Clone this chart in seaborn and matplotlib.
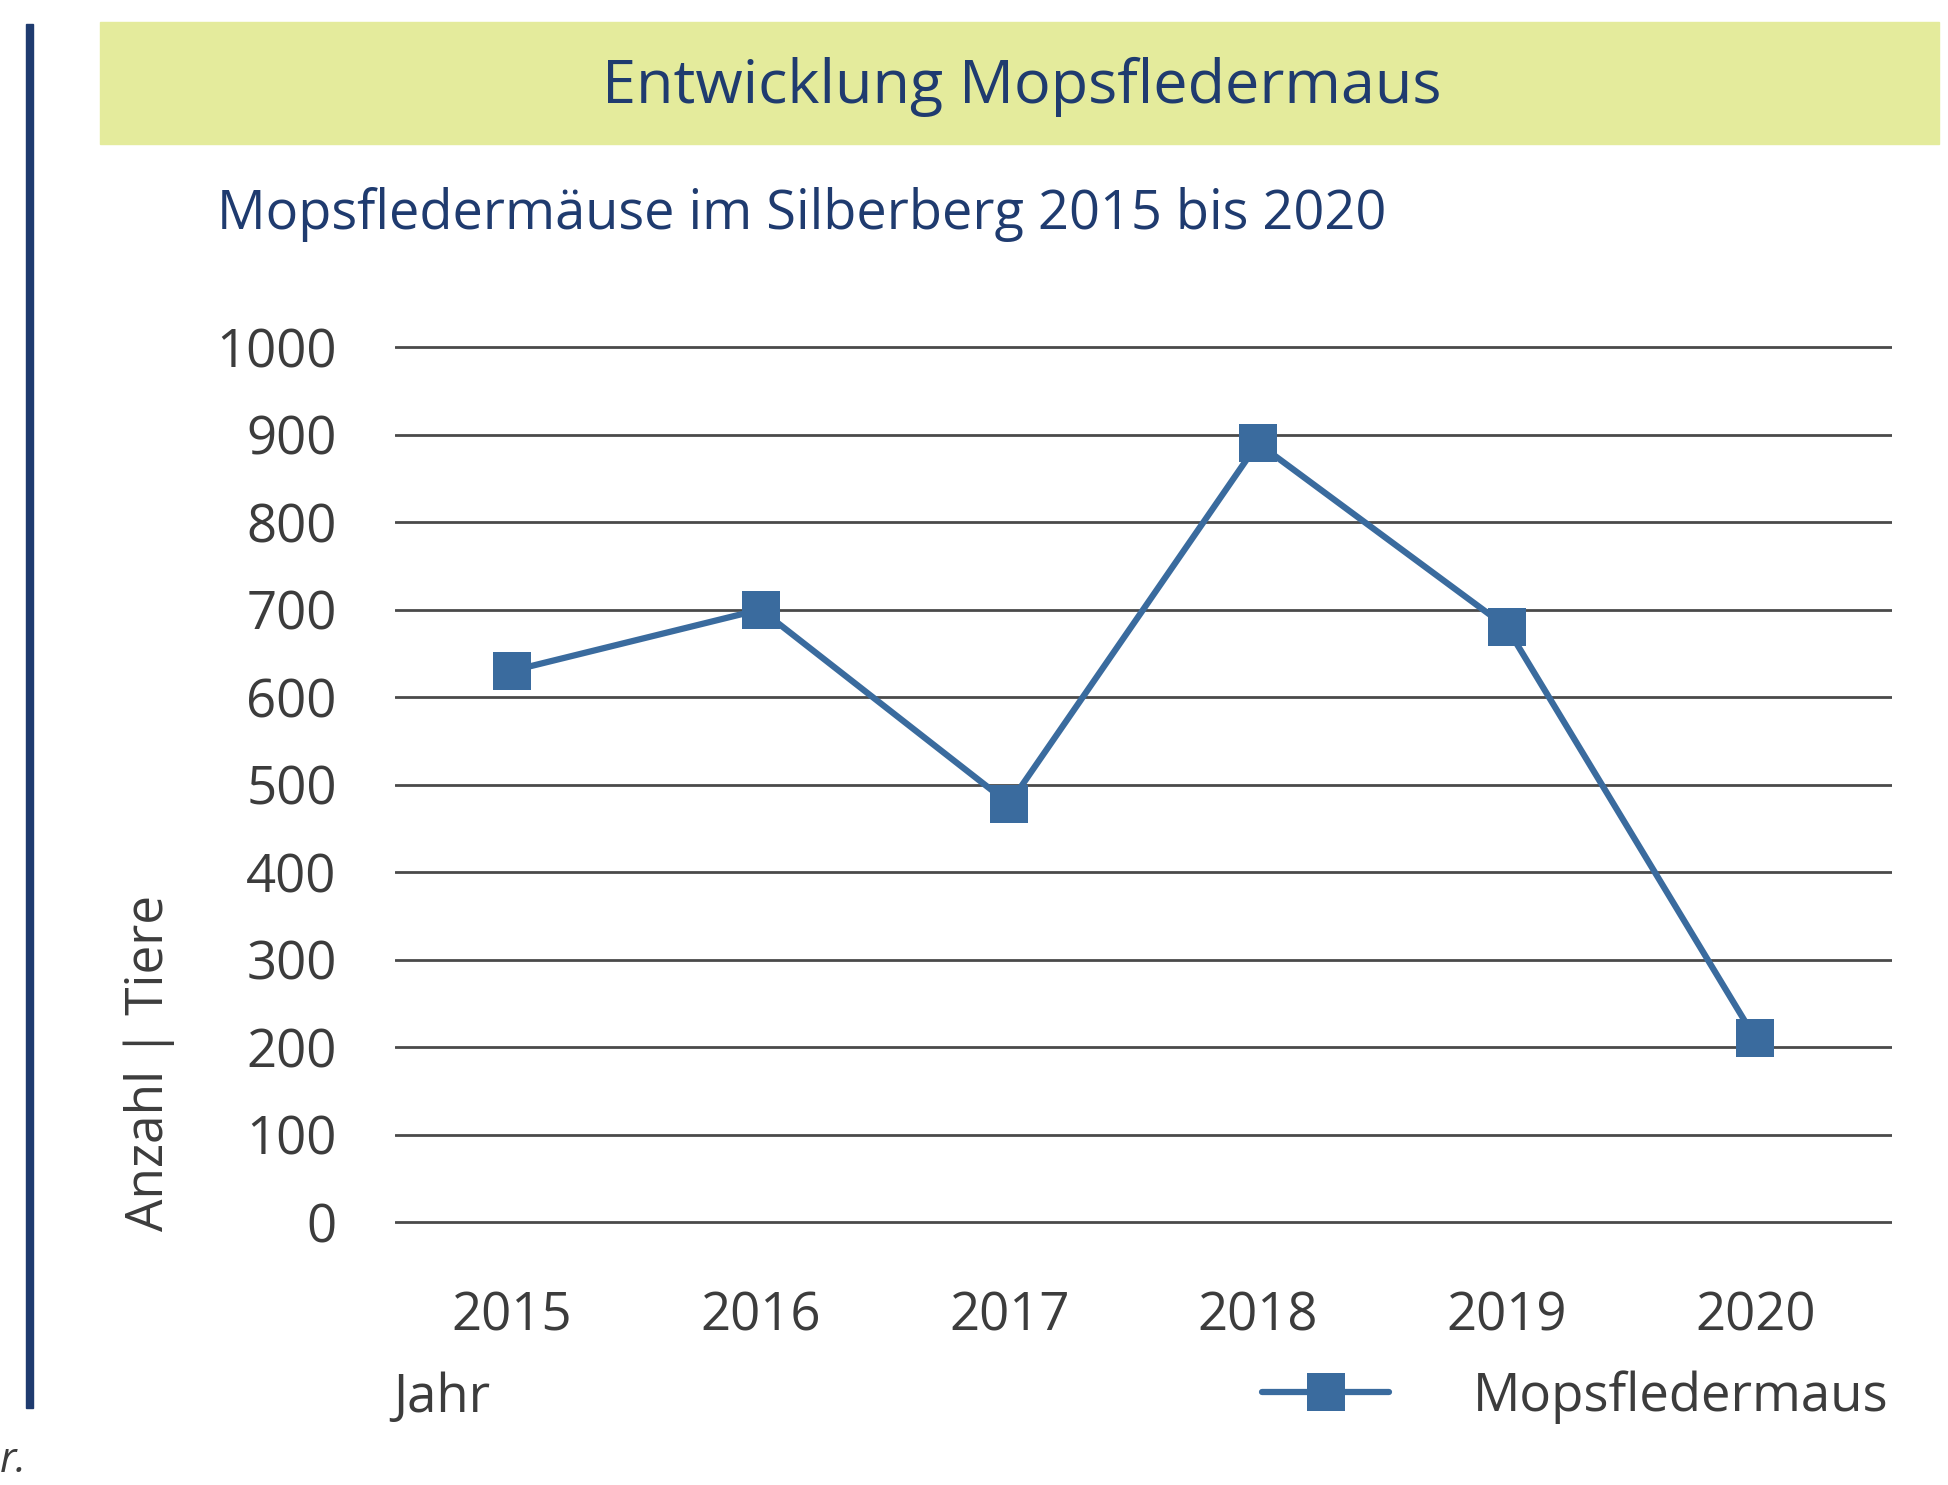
import pandas as pd
import matplotlib.pyplot as plt
import seaborn as sns
from matplotlib.patches import Rectangle

# values
years = ['2015', '2016', '2017', '2018', '2019', '2020']
counts = [630, 700, 478, 890, 680, 210]
y_ticks = [0, 100, 200, 300, 400, 500, 600, 700, 800, 900, 1000]

df = pd.DataFrame({'Jahr': years, 'Anzahl': counts, 'Art': 'Mopsfledermaus'})

sns.set_style('white')
plt.rcParams['font.family'] = ['Open Sans', 'DejaVu Sans']

navy = '#1f3b6f'
blue = '#3a6b9e'
grey = '#3c3c3c'

fig = plt.figure(figsize=(19.49, 14.85), dpi=100)

# header band and left bar
fig.patches.append(Rectangle((100 / 1949, 1 - 144 / 1485), 1839 / 1949, 122 / 1485,
                             transform=fig.transFigure, color='#e4eb9c', zorder=0))
fig.patches.append(Rectangle((26 / 1949, 1 - 1408 / 1485), 7 / 1949, 1384 / 1485,
                             transform=fig.transFigure, color=navy, zorder=0))
fig.text(1022 / 1949, 1 - 87 / 1485, 'Entwicklung Mopsfledermaus', ha='center', va='center',
         fontsize=44, color=navy, fontweight='medium')
fig.text(217 / 1949, 1 - 215 / 1485, 'Mopsfledermäuse im Silberberg 2015 bis 2020', ha='left',
         va='center', fontsize=39, color=navy, fontweight='medium')

ax = fig.add_axes([395 / 1949, 0.1653, (1892 - 395) / 1949, 0.6128])
sns.lineplot(data=df, x='Jahr', y='Anzahl', hue='Art', palette=[blue], marker='s',
             markersize=28, markeredgewidth=0, linewidth=4.5, ax=ax)

ax.set_ylim(-20, 1020)
ax.set_xlim(-0.47, 5.55)
ax.set_yticks(y_ticks)
ax.set_yticklabels([str(v) for v in y_ticks])
ax.grid(axis='y', color='#4a4a4a', linewidth=2)
ax.grid(axis='x', visible=False)
for s in ax.spines.values():
    s.set_visible(False)
ax.tick_params(axis='y', length=0, pad=42, labelsize=38, labelcolor=grey)
ax.tick_params(axis='x', length=0, pad=36, labelsize=38, labelcolor=grey)
ax.set_xlabel('')
ax.set_ylabel('')

ax.legend_.remove()
handles, labels = ax.get_legend_handles_labels()
fig.legend(handles, labels, loc='center right', bbox_to_anchor=(1889 / 1949, 1 - 1397 / 1485),
           frameon=False, fontsize=38, labelcolor=grey, handlelength=2.4, handletextpad=1.6,
           borderpad=0, borderaxespad=0)

fig.text(393 / 1949, 1 - 1398 / 1485, 'Jahr', ha='left', va='center', fontsize=38, color=grey)
fig.text(149 / 1949, 1 - 1231 / 1485, 'Anzahl | Tiere', ha='center', va='bottom', rotation=90,
         fontsize=37, color=grey)
fig.text(0, 1 - 1482 / 1485, 'r.', ha='left', va='bottom', fontsize=30, style='italic', color=grey)

plt.savefig('out.png', dpi=100)
